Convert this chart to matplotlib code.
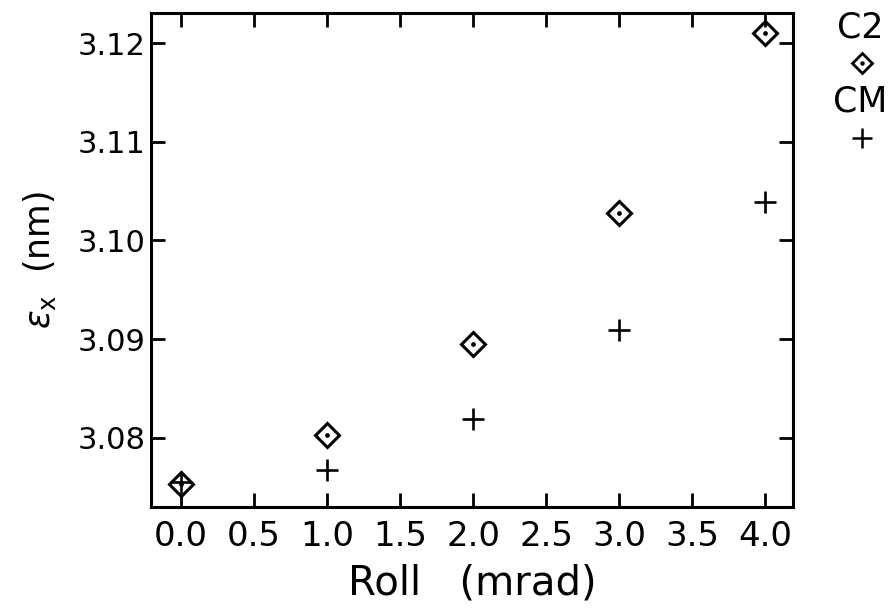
import numpy as np
import matplotlib
matplotlib.use('Agg')
import matplotlib.pyplot as plt
from matplotlib.lines import Line2D

# Dados
roll = [0.0, 1.0, 2.0, 3.0, 4.0]
emit_c2 = [3.0753, 3.0803, 3.0895, 3.1028, 3.1210]
emit_cm = [3.0755, 3.0767, 3.0819, 3.0909, 3.1039]
xticks = [0.0, 0.5, 1.0, 1.5, 2.0, 2.5, 3.0, 3.5, 4.0]
yticks = [3.08, 3.09, 3.10, 3.11, 3.12]

plt.rcParams['font.family'] = 'DejaVu Sans'
plt.rcParams['mathtext.fontset'] = 'dejavusans'

fig = plt.figure(figsize=(8.91, 6.10), dpi=100)
ax = fig.add_axes([151/891, 1 - 507/610, (793-151)/891, (507-12.5)/610])

# C2: losango com ponto no centro
ax.plot(roll, emit_c2, linestyle='none', marker='D', ms=12, mfc='none',
        mec='black', mew=2.2)
ax.plot(roll, emit_c2, linestyle='none', marker='o', ms=2.4, color='black')
# CM: cruz
ax.plot(roll, emit_cm, linestyle='none', marker='+', ms=15.5, mew=1.9,
        color='black')

ax.set_xlim(-0.205, 4.19)
ax.set_ylim(3.07297, 3.1231)
ax.set_xticks(xticks)
ax.set_xticklabels(['%.1f' % v for v in xticks])
ax.set_yticks(yticks)
ax.set_yticklabels(['%.2f' % v for v in yticks])
ax.tick_params(direction='in', length=10, width=2, top=True, right=True)
ax.tick_params(axis='x', labelsize=24.5, pad=9)
ax.tick_params(axis='y', labelsize=22, pad=4)
for s in ax.spines.values():
    s.set_linewidth(2.2)

ax.set_xlabel('Roll   (mrad)', fontsize=29, labelpad=8)
ax.set_ylabel(r'$\varepsilon_{\mathrm{x}}$  (nm)', fontsize=25, labelpad=14)

# Legenda à direita
fig.text(860/891, 1 - 28/610, 'C2', fontsize=25, ha='center', va='center')
fig.text(860/891, 1 - 102/610, 'CM', fontsize=25, ha='center', va='center')
fig.add_artist(Line2D([862/891], [1 - 63/610], transform=fig.transFigure,
                      linestyle='none', marker='D', ms=10.5, mfc='none',
                      mec='black', mew=2))
fig.add_artist(Line2D([862/891], [1 - 63/610], transform=fig.transFigure,
                      linestyle='none', marker='o', ms=2.2, color='black'))
fig.add_artist(Line2D([862/891], [1 - 138/610], transform=fig.transFigure,
                      linestyle='none', marker='+', ms=15, mew=1.8,
                      color='black'))

fig.savefig('out.png', dpi=100)
